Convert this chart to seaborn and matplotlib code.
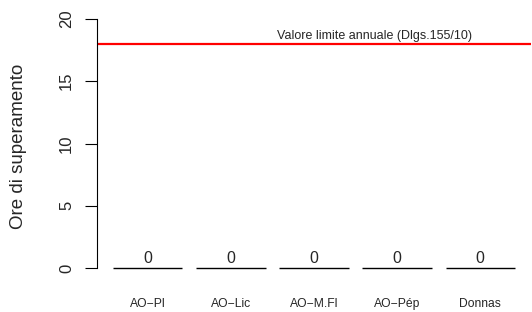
import matplotlib
matplotlib.use("Agg")
import matplotlib.pyplot as plt
import seaborn as sns
import pandas as pd

# Daten
stazioni = ["AO\u2212Pl", "AO\u2212Lic", "AO\u2212M.Fl", "AO\u2212Pép", "Donnas"]
ore_superamento = [0, 0, 0, 0, 0]
valore_limite = 18
testo_limite = "Valore limite annuale (Dlgs.155/10)"
y_ticks = [0, 5, 10, 15, 20]

df = pd.DataFrame({"Stazione": stazioni, "Ore": ore_superamento})

sns.set_style("white")
plt.rcParams["font.family"] = ["Liberation Sans", "DejaVu Sans"]

fig = plt.figure(figsize=(5.32, 3.12), dpi=100)
ax = fig.add_axes([97 / 532, 34 / 312, 434 / 532, 269 / 312])

# Balken (Hoehe 0 -> nur Linie)
sns.barplot(x="Stazione", y="Ore", data=df, color="#bebebe", edgecolor="black",
            linewidth=1, width=1 / 1.2, ax=ax)
ax.bar_label(ax.containers[0], fmt="%d", padding=1.2, fontsize=11.5)

# Grenzwert
ax.axhline(valore_limite, color="red", linewidth=1.6)
ax.text(2.73, valore_limite + 0.12, testo_limite, ha="center", va="bottom", fontsize=9)

# Achsen
ax.set_xlim(-0.61, 4.61)
ax.set_ylim(-0.8, 20.8)
for s in ["top", "right", "bottom"]:
    ax.spines[s].set_visible(False)
ax.spines["left"].set_bounds(0, 20)
ax.spines["left"].set_color("black")
ax.spines["left"].set_linewidth(0.8)

ax.set_yticks(y_ticks)
ax.set_yticklabels([str(t) for t in y_ticks], rotation=90, va="center", fontsize=12)
ax.tick_params(axis="y", left=True, length=8.6, width=0.8, pad=8, color="black")
ax.tick_params(axis="x", bottom=False, length=0, pad=14.5, labelsize=8.7)

ax.set_xlabel("")
ax.set_ylabel("Ore di superamento", fontsize=13.5)
ax.yaxis.set_label_coords(-0.182, 0.49)
ax.yaxis.label.set_va("center")

plt.savefig("out.png", dpi=100)
